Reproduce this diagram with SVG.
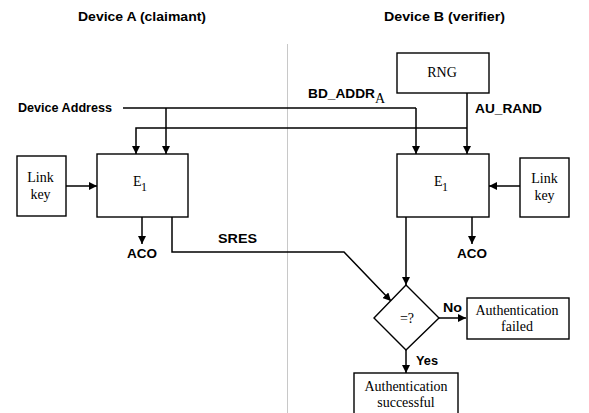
<svg xmlns="http://www.w3.org/2000/svg" width="589" height="413" viewBox="0 0 589 413">
  <style>
    .lbl { font-family: "Liberation Sans", Arial, sans-serif; font-weight: bold; font-size: 12.5px; fill: #000; }
    .box { fill: #fff; stroke: #000; stroke-width: 1.4; }
    .btxt { font-family: "Liberation Serif", "Times New Roman", serif; font-size: 14px; fill: #000; text-anchor: middle; }
    .wire { fill: none; stroke: #000; stroke-width: 1.5; }
    .arr { fill: none; stroke: #000; stroke-width: 1.5; marker-end: url(#head); }
  </style>
  <defs>
    <marker id="head" viewBox="0 0 10 10" refX="10" refY="5" markerWidth="8" markerHeight="8" markerUnits="userSpaceOnUse" orient="auto">
      <path d="M0,0 L10,5 L0,10 z" fill="#000"/>
    </marker>
  </defs>
  <rect width="589" height="413" fill="#fff"/>

  <!-- side headings and divider -->
  <text class="lbl" x="78" y="21" textLength="128" lengthAdjust="spacingAndGlyphs">Device A (claimant)</text>
  <text class="lbl" x="384" y="21" textLength="121" lengthAdjust="spacingAndGlyphs">Device B (verifier)</text>
  <line x1="287.5" y1="44" x2="287.5" y2="413" stroke="#c8c8c8" stroke-width="1"/>

  <g id="connectors">
    <!-- device address bus -->
    <polyline class="wire" points="123,108 416,108"/>
    <line class="arr" x1="166" y1="108" x2="166" y2="154"/>
    <line class="arr" x1="416" y1="108" x2="416" y2="154"/>
    <!-- random number bus -->
    <line class="arr" x1="467" y1="93" x2="467" y2="154"/>
    <polyline class="arr" points="467,128 136,128 136,154"/>
    <!-- link keys -->
    <line class="arr" x1="66" y1="186" x2="97" y2="186"/>
    <line class="arr" x1="520" y1="186" x2="489" y2="186"/>
    <!-- ACO outputs -->
    <line class="arr" x1="142" y1="217" x2="142" y2="244"/>
    <line class="arr" x1="472" y1="217" x2="472" y2="244"/>
    <!-- SRES paths -->
    <polyline class="arr" points="172,217 172,252 344,252 391,301"/>
    <line class="arr" x1="406" y1="217" x2="406" y2="285"/>
    <!-- decision outputs -->
    <line class="arr" x1="439" y1="318" x2="466" y2="318"/>
    <line class="arr" x1="406" y1="350" x2="406" y2="373"/>
  </g>

  <!-- connector labels -->
  <text class="lbl" x="18" y="112" textLength="94" lengthAdjust="spacingAndGlyphs">Device Address</text>
  <text class="lbl" x="308" y="98"><tspan textLength="67" lengthAdjust="spacingAndGlyphs">BD_ADDR</tspan><tspan font-family="Liberation Serif, serif" font-weight="normal" font-size="14" dy="5">A</tspan></text>
  <text class="lbl" x="475" y="113" textLength="67" lengthAdjust="spacingAndGlyphs">AU_RAND</text>
  <text class="lbl" x="218" y="243" textLength="39" lengthAdjust="spacingAndGlyphs">SRES</text>
  <text class="lbl" x="127" y="258" textLength="30" lengthAdjust="spacingAndGlyphs">ACO</text>
  <text class="lbl" x="457" y="258" textLength="30" lengthAdjust="spacingAndGlyphs">ACO</text>
  <text class="lbl" x="443" y="312" textLength="19" lengthAdjust="spacingAndGlyphs">No</text>
  <text class="lbl" x="416" y="365" textLength="22" lengthAdjust="spacingAndGlyphs">Yes</text>

  <g id="rng">
    <rect class="box" x="397" y="53" width="92" height="40"/>
    <text class="btxt" x="442" y="77" font-size="14.5">RNG</text>
  </g>

  <g id="e1-a">
    <rect class="box" x="97" y="154" width="91" height="63"/>
    <text class="btxt" x="140" y="186" font-size="15">E<tspan font-size="12" dx="-0.5" dy="5">1</tspan></text>
  </g>

  <g id="linkkey-a">
    <rect class="box" x="17" y="156" width="49" height="60"/>
    <text class="btxt" x="40.5" y="182">Link</text>
    <text class="btxt" x="40.5" y="199">key</text>
  </g>

  <g id="e1-b">
    <rect class="box" x="397" y="154" width="92" height="63"/>
    <text class="btxt" x="441" y="186" font-size="15">E<tspan font-size="12" dx="-0.5" dy="5">1</tspan></text>
  </g>

  <g id="linkkey-b">
    <rect class="box" x="520" y="158" width="49" height="59"/>
    <text class="btxt" x="544.5" y="183">Link</text>
    <text class="btxt" x="544.5" y="200">key</text>
  </g>

  <g id="compare">
    <polygon class="box" points="406,285 439,318 406,350 374,318"/>
    <text class="btxt" x="407" y="323">=?</text>
  </g>

  <g id="auth-failed">
    <rect class="box" x="467" y="298" width="102" height="41"/>
    <text class="btxt" x="517" y="315">Authentication</text>
    <text class="btxt" x="517" y="331">failed</text>
  </g>

  <g id="auth-ok">
    <rect class="box" x="354" y="373" width="104" height="44"/>
    <text class="btxt" x="406" y="391">Authentication</text>
    <text class="btxt" x="406" y="407">successful</text>
  </g>
</svg>
